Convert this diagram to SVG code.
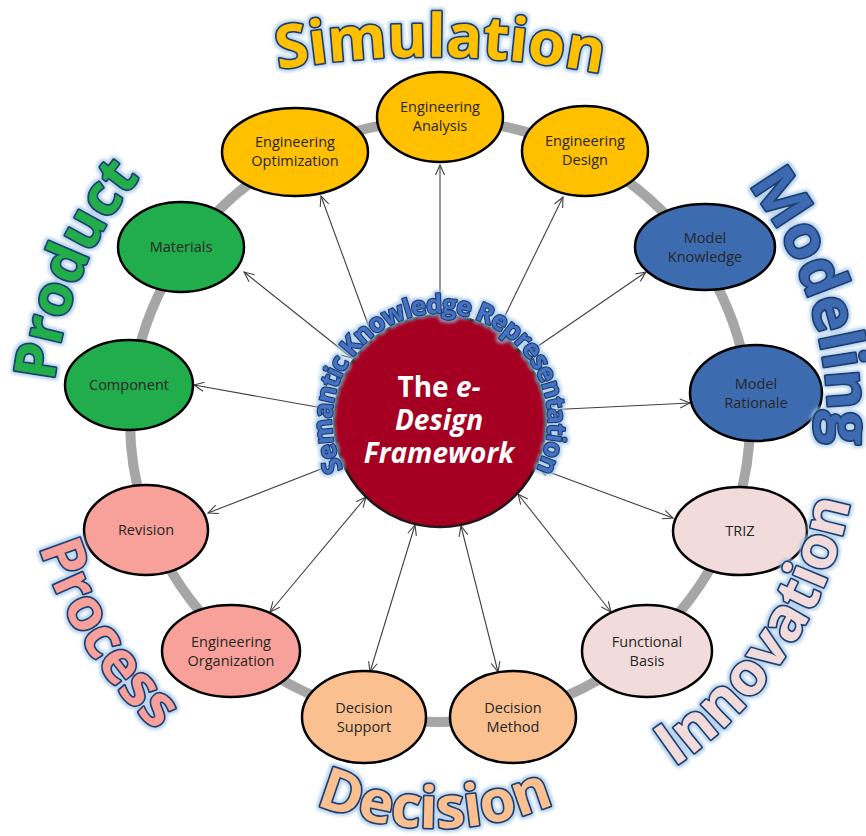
<svg xmlns="http://www.w3.org/2000/svg" width="866" height="836" viewBox="0 0 866 836">
<style>
.node ellipse{stroke:#000;stroke-width:2.5}
.nt{font-family:"Open Sans","Noto Sans",sans-serif;font-size:14.5px;fill:#262626;text-anchor:middle}
.arr{stroke:#404040;stroke-width:1.1;fill:none;marker-start:url(#ah);marker-end:url(#ah)}
.lbl{font-family:"Open Sans","Noto Sans",sans-serif;font-weight:bold;font-size:60px;stroke:#1F3F74;stroke-width:3.5;paint-order:stroke fill;stroke-linejoin:round;text-anchor:middle;filter:url(#glow)}
.ctr{font-family:"Open Sans","Noto Sans",sans-serif;font-weight:bold;font-size:28px;fill:#fff;text-anchor:middle}
.yel{fill:#FFC000}.grn{fill:#21AD4B}.blu{fill:#3D6BB0}.sal{fill:#F7A19A}.pnk{fill:#F2DCDB}.pch{fill:#FAC08F}
</style>
<defs>
<marker id="ah" viewBox="-11 -6 12 12" refX="0" refY="0" markerWidth="12" markerHeight="12" markerUnits="userSpaceOnUse" orient="auto-start-reverse">
<path d="M-10,-4.5 L0,0 L-10,4.5" fill="none" stroke="#404040" stroke-width="1.1"/>
</marker>
<filter id="glow" x="-10%" y="-10%" width="120%" height="120%">
<feMorphology in="SourceAlpha" operator="dilate" radius="1.5" result="d"/>
<feGaussianBlur in="d" stdDeviation="1.6" result="b"/>
<feFlood flood-color="#9DC3E6" flood-opacity="0.7"/>
<feComposite in2="b" operator="in" result="g"/>
<feMerge><feMergeNode in="g"/><feMergeNode in="SourceGraphic"/></feMerge>
</filter>
<path id="pSim" d="M275,70 A900,900 0 0 1 605,74"/>
<path id="pMod" d="M728.3,161.4 A388,388 0 0 1 824.2,475"/>
<path id="pInn" d="M642.7,786.6 A418,418 0 0 0 855.7,464.7"/>
<path id="pDec" d="M237,756 A308,308 0 0 0 633,756"/>
<path id="pPro" d="M26.4,493.9 A420,420 0 0 0 199.1,765.1"/>
<path id="pPrd" d="M52,436 A388,388 0 0 1 168.2,146.6"/>
<path id="pSem" d="M346.4,475 A108,108 0 1 1 533.6,475"/>
</defs>
<rect width="866" height="836" fill="#fff"/>
<ellipse id="ring" cx="440" cy="421" rx="310" ry="301" fill="none" stroke="#A6A6A6" stroke-width="10"/>
<g id="connectors">
<line class="arr" x1="440" y1="316" x2="440" y2="165"/>
<line class="arr" x1="498" y1="330" x2="563" y2="197"/>
<line class="arr" x1="373" y1="338" x2="321" y2="196"/>
<line class="arr" x1="352" y1="358" x2="244" y2="272"/>
<line class="arr" x1="525" y1="355" x2="646" y2="272"/>
<line class="arr" x1="334" y1="410" x2="194" y2="385"/>
<line class="arr" x1="546" y1="410" x2="690" y2="403"/>
<line class="arr" x1="339" y1="462" x2="208" y2="513"/>
<line class="arr" x1="538" y1="468" x2="673" y2="518"/>
<line class="arr" x1="366" y1="497" x2="270" y2="612"/>
<line class="arr" x1="518" y1="494" x2="611" y2="612"/>
<line class="arr" x1="415" y1="525" x2="370" y2="672"/>
<line class="arr" x1="461" y1="526" x2="498" y2="672"/>
</g>
<g id="n-eng-analysis" class="node"><ellipse class="yel" cx="440" cy="117" rx="63" ry="45"/><text class="nt" x="440" y="112">Engineering</text><text class="nt" x="440" y="131">Analysis</text></g>
<g id="n-eng-design" class="node"><ellipse class="yel" cx="585" cy="151" rx="63" ry="45"/><text class="nt" x="585" y="146">Engineering</text><text class="nt" x="585" y="165">Design</text></g>
<g id="n-eng-optimization" class="node"><ellipse class="yel" cx="295" cy="152" rx="73" ry="44"/><text class="nt" x="295" y="147">Engineering</text><text class="nt" x="295" y="166">Optimization</text></g>
<g id="n-model-knowledge" class="node"><ellipse class="blu" cx="705" cy="247" rx="70" ry="43"/><text class="nt" x="705" y="243">Model</text><text class="nt" x="705" y="262">Knowledge</text></g>
<g id="n-materials" class="node"><ellipse class="grn" cx="181" cy="247" rx="63" ry="45"/><text class="nt" x="181" y="252">Materials</text></g>
<g id="n-model-rationale" class="node"><ellipse class="blu" cx="756" cy="393" rx="66" ry="48"/><text class="nt" x="756" y="389">Model</text><text class="nt" x="756" y="408">Rationale</text></g>
<g id="n-component" class="node"><ellipse class="grn" cx="129" cy="385" rx="64" ry="45"/><text class="nt" x="129" y="390">Component</text></g>
<g id="n-triz" class="node"><ellipse class="pnk" cx="740" cy="531" rx="67" ry="44"/><text class="nt" x="740" y="536">TRIZ</text></g>
<g id="n-revision" class="node"><ellipse class="sal" cx="146" cy="530" rx="62" ry="45"/><text class="nt" x="146" y="535">Revision</text></g>
<g id="n-functional-basis" class="node"><ellipse class="pnk" cx="647" cy="651" rx="65" ry="46"/><text class="nt" x="647" y="647">Functional</text><text class="nt" x="647" y="666">Basis</text></g>
<g id="n-eng-organization" class="node"><ellipse class="sal" cx="231" cy="651" rx="69" ry="46"/><text class="nt" x="231" y="647">Engineering</text><text class="nt" x="231" y="666">Organization</text></g>
<g id="n-decision-support" class="node"><ellipse class="pch" cx="364" cy="717" rx="62" ry="46"/><text class="nt" x="364" y="713">Decision</text><text class="nt" x="364" y="732">Support</text></g>
<g id="n-decision-method" class="node"><ellipse class="pch" cx="513" cy="717" rx="63" ry="46"/><text class="nt" x="513" y="713">Decision</text><text class="nt" x="513" y="732">Method</text></g>
<g id="n-center">
<circle cx="440" cy="421" r="106" fill="#A50021" stroke="#1a1a1a" stroke-width="2.5"/>
<text class="ctr" x="439" y="397">The <tspan font-style="italic">e-</tspan></text>
<text class="ctr" x="439" y="430" font-style="italic">Design</text>
<text class="ctr" x="439" y="463" font-style="italic">Framework</text>
</g>
<g id="labels">
<text class="lbl" style="font-size:26px;stroke-width:2.5;letter-spacing:-1.2px" fill="#4472C4"><textPath href="#pSem" startOffset="50%">Semantic Knowledge Representation</textPath></text>
<text class="lbl yel"><textPath href="#pSim" startOffset="50%">Simulation</textPath></text>
<text class="lbl blu"><textPath href="#pMod" startOffset="50%">Modeling</textPath></text>
<text class="lbl pnk"><textPath href="#pInn" startOffset="50%">Innovation</textPath></text>
<text class="lbl pch" style="font-size:58px"><textPath href="#pDec" startOffset="50%">Decision</textPath></text>
<text class="lbl sal" style="font-size:58px"><textPath href="#pPro" startOffset="50%">Process</textPath></text>
<text class="lbl grn" style="font-size:57px"><textPath href="#pPrd" startOffset="52%">Product</textPath></text>
</g>
</svg>
